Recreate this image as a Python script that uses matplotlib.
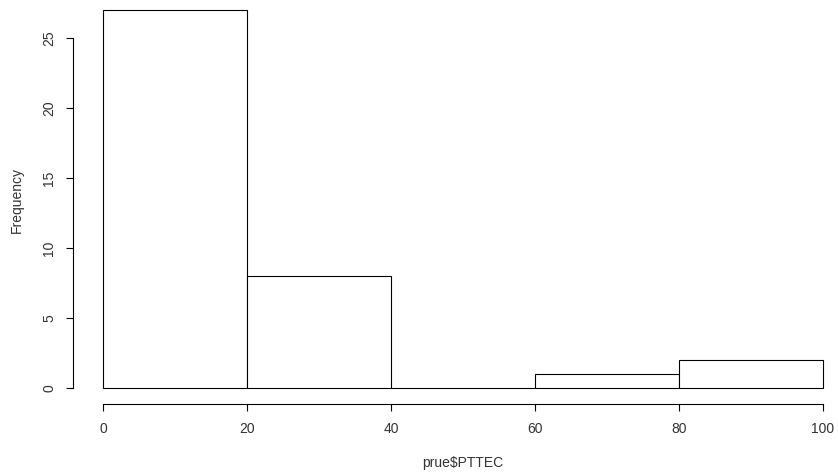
import matplotlib
matplotlib.use("Agg")
import matplotlib.pyplot as plt

# Histogram of prue$PTTEC
bin_edges = [0, 20, 40, 60, 80, 100]
counts = [27, 8, 0, 1, 2]
x_ticks = [0, 20, 40, 60, 80, 100]
y_ticks = [0, 5, 10, 15, 20, 25]

plt.rcParams["font.family"] = ["Liberation Sans", "DejaVu Sans"]

W, H, DPI = 838, 475, 100
fig = plt.figure(figsize=(W / DPI, H / DPI), dpi=DPI)

# pixel geometry of the plotting region
px0, px100 = 103, 823        # x = 0 and x = 100
py0, py_per = 388, 14.0      # y = 0 pixel row, pixels per count
ax_l, ax_r, ax_b, ax_t = 40, 838, 430, 0
sx = (px100 - px0) / 100.0
ax = fig.add_axes([ax_l / W, 1 - ax_b / H, (ax_r - ax_l) / W, (ax_b - ax_t) / H])
ax.set_xlim((ax_l - px0) / sx, (ax_r - px0) / sx)
ax.set_ylim((py0 - ax_b) / py_per, (py0 - ax_t) / py_per)
ax.patch.set_visible(False)

lefts = bin_edges[:-1]
widths = [b - a for a, b in zip(bin_edges[:-1], bin_edges[1:])]
ax.bar(lefts, counts, width=widths, align="edge", facecolor="white",
       edgecolor="black", linewidth=0.8)

for side in ("top", "right"):
    ax.spines[side].set_visible(False)
ax.spines["left"].set_position(("data", (73 - px0) / sx))
ax.spines["left"].set_bounds(y_ticks[0], y_ticks[-1])
ax.spines["bottom"].set_position(("data", (py0 - 404) / py_per))
ax.spines["bottom"].set_bounds(x_ticks[0], x_ticks[-1])
for s in ("left", "bottom"):
    ax.spines[s].set_linewidth(0.8)

ax.set_xticks(x_ticks)
ax.set_yticks(y_ticks)
ax.set_xticklabels([str(v) for v in x_ticks])
ax.set_yticklabels([str(v) for v in y_ticks], rotation=90, va="center")
ax.tick_params(axis="both", direction="out", length=5.0, width=0.8,
               labelsize=10, colors="black", labelcolor="#333333")
ax.tick_params(axis="x", pad=8)
ax.tick_params(axis="y", pad=7)

fig.text(463 / W, 1 - 463 / H, "prue$PTTEC", ha="center", va="center",
         fontsize=10, color="#333333")
fig.text(17 / W, 1 - 200 / H, "Frequency", ha="center", va="center",
         rotation=90, fontsize=10, color="#333333")

fig.savefig("out.png", dpi=DPI, facecolor="white")
